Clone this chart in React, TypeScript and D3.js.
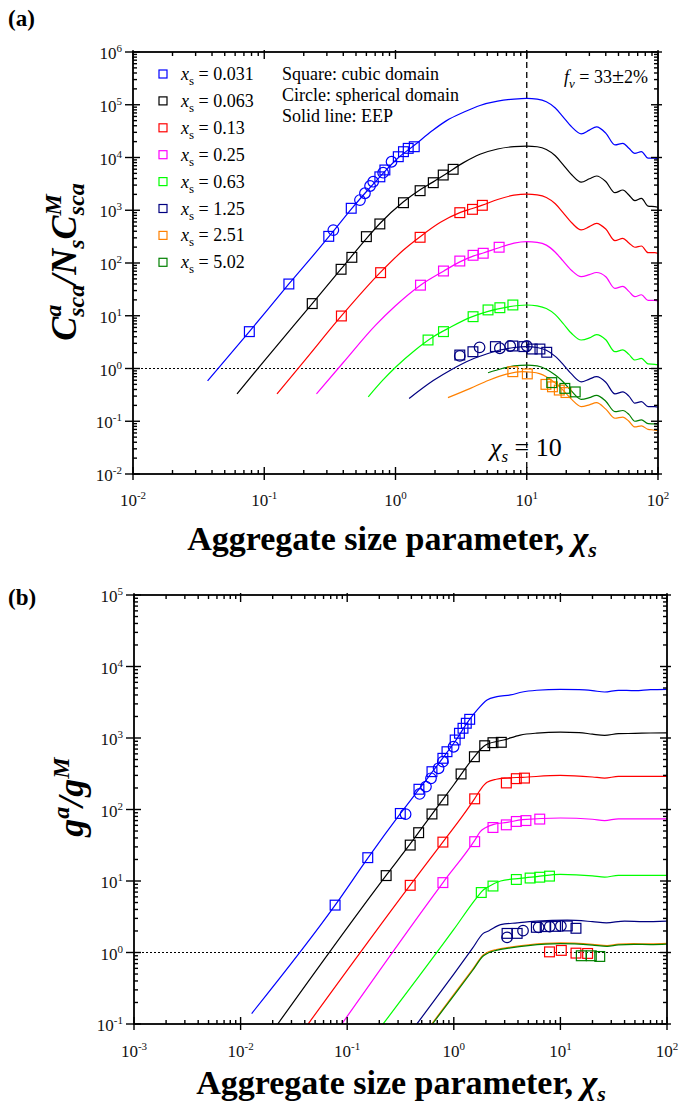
import React, { useEffect, useRef } from 'react';
import * as d3 from 'd3';

type Pt = [number, number];

const serif = "'Liberation Serif', 'Times New Roman', Times, serif";

const seriesNames = ['0.031', '0.063', '0.13', '0.25', '0.63', '1.25', '2.51', '5.02'];
const seriesColors = ['#0000ff', '#000000', '#ff0000', '#ff00ff', '#00ff00', '#000080', '#ff8000', '#008000'];

// ---------- panel (a): scattering cross-section ratio, EEP lines ----------
const eepA_031: Pt[] = [[0.037, 0.58], [0.077, 5.0], [0.154, 40], [0.26, 185], [0.34, 415], [0.46, 1050], [0.585, 2100], [0.76, 4300], [1.05, 9900], [1.39, 17000], [1.9, 32000], [2.45, 50000], [3.3, 72000], [4.4, 97000], [6, 117000], [8, 128000], [10, 132000], [12, 128000], [14.1, 114000], [16.5, 87000], [18.9, 59000], [22, 38000], [26, 28000], [30, 33000], [34, 38000], [40, 29000], [47, 17300], [54, 18600], [60, 15000], [66.6, 12000], [74.8, 12900], [84, 9700], [94.6, 9700], [100, 9400]];
const eepA_063: Pt[] = [[0.062, 0.33], [0.1, 1.4], [0.232, 17], [0.385, 77], [0.6, 290], [0.76, 560], [1.15, 1450], [1.54, 2450], [1.94, 3450], [2.4, 4800], [3.3, 8000], [4.4, 11500], [6, 14500], [8, 16100], [10, 16500], [12, 16000], [14.1, 14200], [16.5, 10800], [18.9, 7300], [22, 4700], [26, 3400], [30, 3950], [34, 4460], [40, 3500], [47, 2150], [54, 2420], [60, 1950], [66.6, 1520], [74.8, 1680], [84, 1200], [94.6, 1170], [100, 1140]];
const eepA_13: Pt[] = [[0.125, 0.33], [0.2, 1.35], [0.387, 9.9], [0.77, 67], [1.15, 176], [1.54, 315], [2.2, 590], [3.09, 900], [3.86, 1080], [4.59, 1250], [6, 1600], [8, 1930], [10, 2030], [12, 1960], [14.1, 1750], [16.5, 1330], [18.9, 900], [22, 580], [26, 423], [30, 490], [34, 565], [40, 440], [47, 265], [54, 294], [60, 240], [66.6, 199], [74.8, 210], [84, 157], [94.6, 157], [100, 152]];
const eepA_25: Pt[] = [[0.25, 0.33], [0.4, 1.3], [0.7, 6.5], [1.0, 15.5], [1.55, 38], [2.32, 70], [3.09, 105], [3.9, 135], [4.66, 155], [6.16, 195], [8, 238], [10, 254], [12, 246], [14.1, 218], [16.5, 160], [18.9, 110], [22, 72], [26, 55], [30, 60], [34, 66], [40, 55], [47, 33], [54, 36], [60, 29], [66.6, 23], [74.8, 25], [84, 19.5], [94.6, 19.5], [100, 19]];
const eepA_63: Pt[] = [[0.62, 0.29], [0.8, 0.6], [1.01, 1.08], [1.4, 2.2], [1.94, 4.0], [2.6, 6.0], [3.72, 9.3], [5, 12.0], [7.1, 14.6], [10, 16], [12, 15.4], [14.1, 13.7], [16.5, 10.5], [18.9, 7.2], [22, 4.6], [26, 3.47], [30, 3.8], [34, 4.4], [40, 3.5], [47, 2.08], [54, 2.25], [60, 1.85], [66.6, 1.45], [74.8, 1.55], [84, 1.22], [94.6, 1.2], [100, 1.18]];
const eepA_125: Pt[] = [[1.27, 0.27], [1.94, 0.59], [2.7, 0.97], [3.72, 1.45], [5, 1.9], [6.24, 2.24], [8, 2.5], [10, 2.6], [12, 2.5], [14.1, 2.22], [16.5, 1.7], [18.9, 1.2], [22, 0.78], [26, 0.56], [30, 0.63], [34, 0.7], [40, 0.55], [47, 0.33], [54, 0.36], [60, 0.3], [66.6, 0.22], [74.8, 0.235], [84, 0.19], [94.6, 0.19], [100, 0.185]];
const eepA_251: Pt[] = [[2.51, 0.28], [3.72, 0.42], [5.14, 0.6], [7, 0.78], [9.2, 0.87], [11, 0.85], [12.5, 0.8], [14.1, 0.7], [16.5, 0.53], [18.9, 0.39], [22, 0.26], [26, 0.19], [30, 0.205], [34, 0.225], [40, 0.17], [47, 0.114], [54, 0.12], [60, 0.1], [66.6, 0.078], [74.8, 0.082], [84, 0.07], [94.6, 0.068], [100, 0.066]];
const eepA_502: Pt[] = [[5.07, 0.83], [6.5, 1.0], [8, 1.12], [10, 1.16], [12, 1.12], [14.1, 0.97], [16.5, 0.75], [18.9, 0.56], [22, 0.37], [26, 0.26], [30, 0.28], [34, 0.31], [40, 0.24], [47, 0.152], [54, 0.16], [60, 0.135], [66.6, 0.1], [74.8, 0.106], [84, 0.09], [94.6, 0.089], [100, 0.088]];

// (a) markers: squares = cubic domain, circles = spherical domain
const sqA_031: Pt[] = [[0.077, 5.0], [0.154, 40], [0.31, 320], [0.46, 1090], [0.76, 4300], [0.83, 5800], [1.05, 10350], [1.15, 12900], [1.25, 14900], [1.39, 16000]];
const ciA_031: Pt[] = [[0.336, 420], [0.536, 1560], [0.585, 2100], [0.64, 2880], [0.676, 3475], [0.805, 5150], [0.933, 8300]];
const sqA_063: Pt[] = [[0.232, 17], [0.385, 76], [0.465, 128], [0.6, 316], [0.76, 550], [1.15, 1390], [1.54, 2350], [1.94, 3330], [2.31, 4650], [2.75, 5970]];
const sqA_13: Pt[] = [[0.387, 9.9], [0.77, 65.6], [1.54, 307], [3.09, 900], [3.86, 1040], [4.59, 1240]];
const sqA_25: Pt[] = [[1.55, 38], [2.32, 70.5], [3.09, 109], [3.9, 140], [4.66, 153], [6.16, 199]];
const sqA_63: Pt[] = [[1.77, 3.47], [2.32, 5.0], [3.9, 9.6], [5.07, 12.9], [6.24, 14.2], [7.84, 16]];
const sqA_125: Pt[] = [[3.09, 1.8], [3.89, 2.08], [5.77, 2.6], [7.83, 2.67], [9.5, 2.6], [11, 2.34], [12.6, 2.34], [14.2, 2.03]];
const ciA_125: Pt[] = [[3.09, 1.73], [4.37, 2.52], [6.24, 2.42], [7.48, 2.67], [10, 2.67]];
const sqA_251: Pt[] = [[7.83, 0.87], [10.1, 0.79], [14, 0.5], [15.7, 0.45], [17.7, 0.39], [19.9, 0.35]];
const sqA_502: Pt[] = [[15.5, 0.54], [19.5, 0.42], [23.4, 0.36]];

// ---------- panel (b): asymmetry factor ratio, EEP lines ----------
const eepB_031: Pt[] = [[0.0127, 0.14], [0.078, 4.7], [0.158, 21.4], [0.316, 88], [0.5, 215], [0.8, 540], [1.03, 900], [1.38, 1750], [1.65, 2450], [2.05, 3400], [2.54, 3790], [3.4, 4000], [4.4, 4400], [6, 4650], [10, 4800], [15, 4750], [20, 4600], [26, 4400], [35, 4650], [50, 4600], [70, 4750], [100, 4800]];
const eepB_063: Pt[] = [[0.0223, 0.1], [0.232, 12], [0.39, 33], [0.628, 87], [1.0, 222], [1.56, 550], [1.9, 760], [2.05, 817], [2.94, 938], [4.2, 1100], [6, 1170], [10, 1205], [15, 1190], [20, 1130], [26, 1090], [35, 1150], [50, 1160], [70, 1175], [100, 1180]];
const eepB_13: Pt[] = [[0.043, 0.1], [0.393, 8.9], [0.795, 35.5], [1.2, 80], [1.57, 142], [1.8, 195], [2.05, 240], [2.5, 265], [3, 275], [4.4, 282], [10, 300], [20, 285], [26, 275], [35, 290], [50, 290], [100, 291]];
const eepB_25: Pt[] = [[0.089, 0.1], [0.795, 9.6], [1.57, 37], [1.77, 49], [2.0, 56], [2.37, 62], [3.17, 66], [4.4, 72], [10, 76], [20, 73], [26, 70], [35, 74], [50, 74], [100, 74]];
const eepB_63: Pt[] = [[0.217, 0.1], [1.0, 2.1], [1.65, 5.9], [1.89, 7.5], [2.05, 8.1], [2.75, 10], [4.2, 10.9], [6, 11.5], [10, 12.4], [20, 11.8], [26, 11.3], [35, 12], [50, 12], [100, 12]];
const eepB_125: Pt[] = [[0.45, 0.1], [1.0, 0.5], [1.5, 1.15], [1.89, 1.85], [2.12, 2.0], [2.75, 2.45], [3.93, 2.6], [6, 2.75], [11.6, 2.83], [20, 2.7], [27, 2.6], [40, 2.75], [60, 2.7], [100, 2.75]];
const eepB_251: Pt[] = [[0.62, 0.1], [1.0, 0.26], [1.5, 0.58], [1.9, 0.93], [2.12, 1.02], [2.5, 1.1], [3.4, 1.19], [5, 1.28], [10, 1.36], [20, 1.3], [27.4, 1.25], [35, 1.31], [48.8, 1.33], [70, 1.32], [100, 1.34]];
const eepB_502: Pt[] = [[0.63, 0.1], [1.0, 0.25], [1.5, 0.56], [1.9, 0.9], [2.12, 0.99], [2.5, 1.07], [3.4, 1.16], [5, 1.25], [10, 1.33], [20, 1.27], [27.4, 1.22], [35, 1.28], [48.8, 1.3], [70, 1.29], [100, 1.31]];

const sqB_031: Pt[] = [[0.077, 4.6], [0.156, 21.2], [0.315, 88], [0.471, 192], [0.624, 338], [0.79, 520], [0.863, 643], [1.03, 938], [1.13, 1164], [1.22, 1368], [1.31, 1607], [1.41, 1825]];
const ciB_031: Pt[] = [[0.353, 86], [0.478, 165], [0.548, 209], [0.611, 273], [0.72, 377], [0.79, 467], [0.995, 755]];
const sqB_063: Pt[] = [[0.232, 11.9], [0.39, 31.8], [0.468, 47.4], [0.624, 86.5], [0.79, 136], [1.17, 314], [1.56, 547], [1.95, 780], [2.33, 860], [2.79, 870]];
const sqB_13: Pt[] = [[0.39, 8.7], [0.79, 35], [1.57, 141], [3.11, 235], [3.86, 270], [4.6, 275]];
const sqB_25: Pt[] = [[0.79, 9.5], [1.57, 35.5], [2.33, 56], [3.11, 61], [3.86, 68], [4.75, 70], [6.4, 73.4]];
const sqB_63: Pt[] = [[1.81, 6.9], [2.33, 8.5], [3.86, 10.5], [5.2, 11], [6.4, 11.3], [7.9, 11.7]];
const sqB_125: Pt[] = [[3.16, 1.85], [3.93, 1.85], [5.95, 2.25], [7.2, 2.3], [9.0, 2.32], [11.6, 2.35], [14, 2.18]];
const ciB_125: Pt[] = [[3.16, 1.63], [4.46, 2.02], [6.25, 2.25], [7.94, 2.3], [10.1, 2.35]];
const sqB_red1: Pt[] = [[7.9, 1.02], [10.2, 1.07], [14, 0.98], [18, 0.97]];
const sqB_502: Pt[] = [[15.7, 0.9], [19.5, 0.9], [23.4, 0.88]];

type MarkerSet = { c: number; shape: 'sq' | 'ci'; pts: Pt[] };
type Seg = { t: string; size?: number; shift?: number; italic?: boolean; bold?: boolean; dx?: number };

type Panel = {
  id: string;
  left: number; right: number; top: number; bottom: number;
  xDomain: [number, number]; yDomain: [number, number];
  lines: Pt[][];
  markers: MarkerSet[];
  yLabelEnd: number;
  xLabelY: number;
};

const panelA: Panel = {
  id: 'a', left: 133, right: 658, top: 52, bottom: 474,
  xDomain: [0.01, 100], yDomain: [0.01, 1e6],
  lines: [eepA_031, eepA_063, eepA_13, eepA_25, eepA_63, eepA_125, eepA_251, eepA_502],
  markers: [
    { c: 0, shape: 'sq', pts: sqA_031 }, { c: 0, shape: 'ci', pts: ciA_031 },
    { c: 1, shape: 'sq', pts: sqA_063 }, { c: 2, shape: 'sq', pts: sqA_13 },
    { c: 3, shape: 'sq', pts: sqA_25 }, { c: 4, shape: 'sq', pts: sqA_63 },
    { c: 5, shape: 'sq', pts: sqA_125 }, { c: 5, shape: 'ci', pts: ciA_125 },
    { c: 6, shape: 'sq', pts: sqA_251 }, { c: 7, shape: 'sq', pts: sqA_502 },
  ],
  yLabelEnd: 122, xLabelY: 506,
};

const panelB: Panel = {
  id: 'b', left: 134, right: 667, top: 595, bottom: 1024,
  xDomain: [0.001, 100], yDomain: [0.1, 1e5],
  lines: [eepB_031, eepB_063, eepB_13, eepB_25, eepB_63, eepB_125, eepB_251, eepB_502],
  markers: [
    { c: 0, shape: 'sq', pts: sqB_031 }, { c: 0, shape: 'ci', pts: ciB_031 },
    { c: 1, shape: 'sq', pts: sqB_063 }, { c: 2, shape: 'sq', pts: sqB_13 },
    { c: 3, shape: 'sq', pts: sqB_25 }, { c: 4, shape: 'sq', pts: sqB_63 },
    { c: 5, shape: 'sq', pts: sqB_125 }, { c: 5, shape: 'ci', pts: ciB_125 },
    { c: 2, shape: 'sq', pts: sqB_red1 }, { c: 7, shape: 'sq', pts: sqB_502 },
  ],
  yLabelEnd: 123, xLabelY: 1057,
};

function rich(sel: any, segs: Seg[]) {
  let cur = 0;
  segs.forEach(s => {
    const target = s.shift ?? 0;
    const ts = sel.append('tspan').text(s.t).attr('dy', target - cur);
    cur = target;
    if (s.size) ts.attr('font-size', s.size);
    if (s.italic) ts.attr('font-style', 'italic');
    if (s.bold) ts.attr('font-weight', 'bold');
    if (s.dx) ts.attr('dx', s.dx);
  });
}

function drawPanel(svg: any, p: Panel) {
  const x = d3.scaleLog().domain(p.xDomain).range([p.left, p.right]);
  const y = d3.scaleLog().domain(p.yDomain).range([p.bottom, p.top]);
  const g = svg.append('g');

  // clip for lines
  svg.append('defs').append('clipPath').attr('id', 'clip-' + p.id)
    .append('rect').attr('x', p.left).attr('y', p.top)
    .attr('width', p.right - p.left).attr('height', p.bottom - p.top);

  // dotted line at ratio = 1
  g.append('line')
    .attr('x1', p.left).attr('x2', p.right).attr('y1', y(1)).attr('y2', y(1))
    .attr('stroke', '#000').attr('stroke-width', 1).attr('stroke-dasharray', '2,2');

  if (p.id === 'a') {
    g.append('line')
      .attr('x1', x(10)).attr('x2', x(10)).attr('y1', p.top).attr('y2', p.bottom)
      .attr('stroke', '#000').attr('stroke-width', 1.3).attr('stroke-dasharray', '6,4');
  }

  // EEP solid lines
  const line = d3.line<Pt>().x(d => x(d[0])).y(d => y(d[1])).curve(d3.curveMonotoneX);
  const lg = g.append('g').attr('clip-path', `url(#clip-${p.id})`);
  p.lines.forEach((pts, i) => {
    lg.append('path').attr('d', line(pts)).attr('fill', 'none')
      .attr('stroke', seriesColors[i]).attr('stroke-width', 1.2);
  });

  // markers
  p.markers.forEach(m => {
    const col = seriesColors[m.c];
    if (m.shape === 'sq') {
      g.selectAll(null).data(m.pts).enter().append('rect')
        .attr('x', (d: Pt) => x(d[0]) - 4.9).attr('y', (d: Pt) => y(d[1]) - 4.9)
        .attr('width', 9.8).attr('height', 9.8)
        .attr('fill', 'none').attr('stroke', col).attr('stroke-width', 1.2);
    } else {
      g.selectAll(null).data(m.pts).enter().append('circle')
        .attr('cx', (d: Pt) => x(d[0])).attr('cy', (d: Pt) => y(d[1])).attr('r', 5.3)
        .attr('fill', 'none').attr('stroke', col).attr('stroke-width', 1.2);
    }
  });

  // frame
  g.append('rect').attr('x', p.left).attr('y', p.top)
    .attr('width', p.right - p.left).attr('height', p.bottom - p.top)
    .attr('fill', 'none').attr('stroke', '#000').attr('stroke-width', 1.8);

  // ticks
  const xe0 = Math.round(Math.log10(p.xDomain[0])), xe1 = Math.round(Math.log10(p.xDomain[1]));
  const ye0 = Math.round(Math.log10(p.yDomain[0])), ye1 = Math.round(Math.log10(p.yDomain[1]));
  const xMajor = d3.range(xe0, xe1 + 1).map(e => Math.pow(10, e));
  const yMajor = d3.range(ye0, ye1 + 1).map(e => Math.pow(10, e));
  const minorOf = (maj: number[]) => maj.slice(0, -1).flatMap(v => d3.range(2, 10).map(k => k * v));
  const xMinor = minorOf(xMajor), yMinor = minorOf(yMajor);
  const tk = g.append('g').attr('stroke', '#000').attr('stroke-width', 1.4);
  const seg = (x1: number, y1: number, x2: number, y2: number) =>
    tk.append('line').attr('x1', x1).attr('y1', y1).attr('x2', x2).attr('y2', y2);

  xMajor.forEach(v => {
    const px = x(v);
    seg(px, p.bottom + 6, px, p.bottom - 7);
    seg(px, p.top - 2, px, p.top + 7);
  });
  xMinor.forEach(v => {
    const px = x(v);
    seg(px, p.bottom, px, p.bottom - 4);
    seg(px, p.top, px, p.top + 4);
  });
  yMajor.forEach(v => {
    const py = y(v);
    seg(p.left - 8, py, p.left + 7, py);
    seg(p.right - 7, py, p.right + 4, py);
  });
  yMinor.forEach(v => {
    const py = y(v);
    seg(p.left, py, p.left + 4, py);
    seg(p.right - 4, py, p.right, py);
  });

  // tick labels
  const lab = g.append('g').attr('font-family', serif).attr('font-size', 17).attr('fill', '#111');
  xMajor.forEach(v => {
    const t = lab.append('text').attr('x', x(v)).attr('y', p.xLabelY).attr('text-anchor', 'middle');
    rich(t, [{ t: '10' }, { t: String(Math.round(Math.log10(v))), size: 11, shift: -7 }]);
  });
  yMajor.forEach(v => {
    const t = lab.append('text').attr('x', p.yLabelEnd).attr('y', y(v) + 7).attr('text-anchor', 'end');
    rich(t, [{ t: '10' }, { t: String(Math.round(Math.log10(v))), size: 11, shift: -7 }]);
  });

  return { x, y };
}

export default function App() {
  const ref = useRef<SVGSVGElement>(null);

  useEffect(() => {
    const svg = d3.select(ref.current);
    svg.selectAll('*').remove();

    drawPanel(svg, panelA);
    drawPanel(svg, panelB);

    const txt = svg.append('g').attr('font-family', serif).attr('fill', '#000');

    // panel letters
    txt.append('text').attr('x', 8).attr('y', 26).attr('font-size', 23).attr('font-weight', 'bold').text('(a)');
    txt.append('text').attr('x', 8).attr('y', 605).attr('font-size', 23).attr('font-weight', 'bold').text('(b)');

    // legend (a)
    seriesNames.forEach((name, i) => {
      const cy = 74 + i * 26.9;
      txt.append('rect').attr('x', 159).attr('y', cy - 4).attr('width', 8).attr('height', 8)
        .attr('fill', 'none').attr('stroke', seriesColors[i]).attr('stroke-width', 1.2);
      const t = txt.append('text').attr('x', 181).attr('y', cy + 6).attr('font-size', 18);
      rich(t, [{ t: 'x', italic: true }, { t: 's', size: 13, shift: 5 }, { t: ' = ' + name, shift: 0 }]);
    });

    // notes (a)
    ['Square: cubic domain', 'Circle: spherical domain', 'Solid line: EEP'].forEach((s, i) => {
      txt.append('text').attr('x', 282).attr('y', 80 + i * 21).attr('font-size', 18).text(s);
    });
    const fv = txt.append('text').attr('x', 648).attr('y', 83).attr('font-size', 18).attr('text-anchor', 'end');
    rich(fv, [{ t: 'f', italic: true }, { t: 'v', size: 13, shift: 5, italic: true }, { t: ' = 33', shift: 0 }, { t: '±', size: 22 }, { t: '2%' }]);

    const cx = txt.append('text').attr('x', 490).attr('y', 456).attr('font-size', 26);
    rich(cx, [{ t: 'χ', italic: true }, { t: 's', size: 17, shift: 6, italic: true }, { t: ' = 10', shift: 0 }]);

    // x axis titles
    [[392, 550], [401, 1094]].forEach(([xx, yy]) => {
      const t = txt.append('text').attr('x', xx).attr('y', yy).attr('font-size', 34)
        .attr('font-weight', 'bold').attr('text-anchor', 'middle');
      rich(t, [{ t: 'Aggregate size parameter, ' }, { t: 'χ', italic: true }, { t: 's', size: 22, shift: 7, italic: true }]);
    });

    // y axis titles
    const ya = txt.append('text').attr('transform', 'translate(76,262) rotate(-90)')
      .attr('font-size', 36).attr('font-weight', 'bold').attr('font-style', 'italic').attr('text-anchor', 'middle');
    rich(ya, [
      { t: 'C' }, { t: 'a', size: 24, shift: -15 }, { t: 'sca', size: 24, shift: 8, dx: -12 },
      { t: '/N', shift: 0 }, { t: 's', size: 24, shift: 8 },
      { t: 'C', shift: 0 }, { t: 'M', size: 24, shift: -15 }, { t: 'sca', size: 24, shift: 8, dx: -21 },
    ]);

    const yb = txt.append('text').attr('transform', 'translate(83,797) rotate(-90)')
      .attr('font-size', 36).attr('font-weight', 'bold').attr('font-style', 'italic').attr('text-anchor', 'middle');
    rich(yb, [{ t: 'g' }, { t: 'a', size: 24, shift: -14 }, { t: '/g', shift: 0 }, { t: 'M', size: 24, shift: -14 }]);
  }, []);

  return (
    <svg ref={ref} width={681} height={1105}
      style={{ position: 'absolute', left: 0, top: 0, background: '#fff' }} />
  );
}
